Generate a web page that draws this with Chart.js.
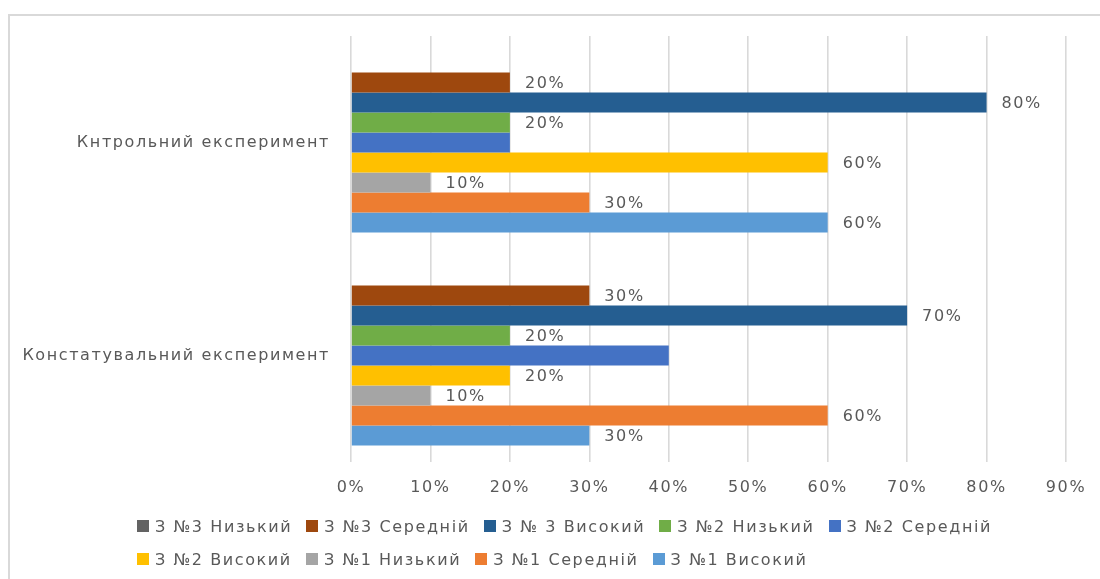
<!DOCTYPE html>
<html>
<head>
<meta charset="utf-8">
<script src="https://cdn.jsdelivr.net/npm/chart.js@4"></script>
<style>
  html, body { margin: 0; background: #fff; overflow: hidden; }
  #wrap { position: relative; width: 1100px; height: 579px; overflow: hidden; }
  .edge { position: absolute; background: #d9d9d9; }
  #edgeTop { left: 8px; top: 14px; width: 1092px; height: 2px; }
  #edgeLeft { left: 8px; top: 14px; width: 2px; height: 565px; }
  #chart { position: absolute; left: 0; top: 0; }
  #legend { position: absolute; left: 137px; top: 516px; font-family: "DejaVu Sans", sans-serif;
            font-size: 16px; letter-spacing: 1.6px; color: #595959; }
  .row { display: flex; height: 20px; margin-bottom: 13px; white-space: nowrap; }
  .item { display: flex; align-items: center; margin-right: 14px; }
  .box { width: 12px; height: 12px; margin-right: 6px; }
</style>
</head>
<body>
<div id="wrap">
  <div class="edge" id="edgeTop"></div>
  <div class="edge" id="edgeLeft"></div>
  <canvas id="chart" width="1100" height="579"></canvas>
  <div id="legend"></div>
</div>
<script>
// categories, top to bottom
var categories = ["Кнтрольний експеримент", "Констатувальний експеримент"];

// series in legend order (first one sits on top of each group)
var seriesNames = [
  "З №3 Низький", "З №3 Середній", "З № 3 Високий",
  "З №2 Низький", "З №2 Середній", "З №2 Високий",
  "З №1 Низький", "З №1 Середній", "З №1 Високий"
];
var seriesColors = [
  "#636363", "#9e480e", "#255e91",
  "#70ad47", "#4472c4", "#ffc000",
  "#a5a5a5", "#ed7d31", "#5b9bd5"
];

// values in percent: [Кнтрольний, Констатувальний]
var z3Low  = [0, 0];
var z3Mid  = [20, 30];
var z3High = [80, 70];
var z2Low  = [20, 20];
var z2Mid  = [20, 40];
var z2High = [60, 20];
var z1Low  = [10, 10];
var z1Mid  = [30, 60];
var z1High = [60, 30];
var seriesValues = [z3Low, z3Mid, z3High, z2Low, z2Mid, z2High, z1Low, z1Mid, z1High];

// which series carry value labels (З №2 Середній has none in the original)
var showLabel = [true, true, true, true, false, true, true, true, true];

var xMax = 90;
var xStep = 10;

var textColor = "#595959";
var font = "DejaVu Sans";
var spacing = "1.6px";

var datasets = seriesNames.map(function (name, i) {
  return {
    label: name,
    data: seriesValues[i],
    backgroundColor: seriesColors[i],
    borderWidth: 0,
    barPercentage: 1,
    categoryPercentage: 0.845
  };
});

// wider lettering, the original text is a bit stretched
var letterSpacing = {
  id: "letterSpacing",
  beforeDraw: function (chart) { chart.ctx.letterSpacing = spacing; }
};

var valueLabels = {
  id: "valueLabels",
  afterDatasetsDraw: function (chart) {
    var ctx = chart.ctx;
    ctx.save();
    ctx.font = "16px '" + font + "'";
    ctx.fillStyle = textColor;
    ctx.textAlign = "left";
    ctx.textBaseline = "middle";
    chart.data.datasets.forEach(function (ds, i) {
      if (!showLabel[i]) return;
      chart.getDatasetMeta(i).data.forEach(function (bar, j) {
        var v = ds.data[j];
        if (!v) return;
        ctx.fillText(v + "%", bar.x + 15, bar.y + 1);
      });
    });
    ctx.restore();
  }
};

var ctx = document.getElementById("chart").getContext("2d");
var myChart = new Chart(ctx, {
  type: "bar",
  data: { labels: categories, datasets: datasets },
  options: {
    indexAxis: "y",
    responsive: false,
    animation: false,
    layout: { padding: { top: 36, right: 34, bottom: 74, left: 0 } },
    plugins: { legend: { display: false }, tooltip: { enabled: false } },
    scales: {
      x: {
        min: 0,
        max: xMax,
        grid: { color: "#d9d9d9", lineWidth: 1.6, drawTicks: false },
        border: { display: false },
        ticks: {
          stepSize: xStep,
          padding: 16,
          color: textColor,
          font: { family: font, size: 16 },
          callback: function (v) { return v + "%"; }
        },
        afterFit: function (s) { s.height = 43; }
      },
      y: {
        grid: { display: false, drawTicks: false },
        border: { display: false },
        ticks: { padding: 21, color: textColor, font: { family: font, size: 16 } },
        afterFit: function (s) { s.width = 351; }
      }
    }
  },
  plugins: [letterSpacing, valueLabels]
});

// legend: two left-aligned rows like the original
var rows = [[0, 1, 2, 3, 4], [5, 6, 7, 8]];
var legend = document.getElementById("legend");
rows.forEach(function (r) {
  var row = document.createElement("div");
  row.className = "row";
  r.forEach(function (i) {
    var item = document.createElement("div");
    item.className = "item";
    var box = document.createElement("span");
    box.className = "box";
    box.style.background = seriesColors[i];
    var txt = document.createElement("span");
    txt.textContent = seriesNames[i];
    item.appendChild(box);
    item.appendChild(txt);
    row.appendChild(item);
  });
  legend.appendChild(row);
});
</script>
</body>
</html>
